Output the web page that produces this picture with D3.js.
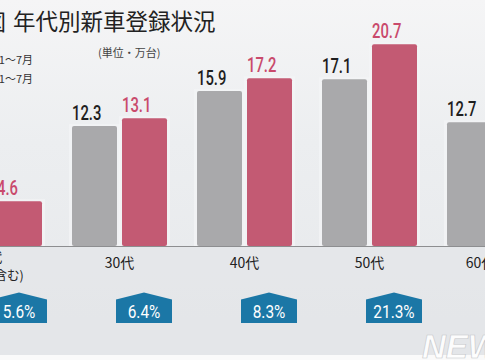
<!DOCTYPE html>
<html><head><meta charset="utf-8">
<script src="https://cdn.jsdelivr.net/npm/d3@7/dist/d3.min.js"></script>
<style>
html,body{margin:0;padding:0;background:#fff;}
svg{display:block;}
</style></head>
<body>
<script>
const categories = ["20代", "30代", "40代", "50代", "60代以上"];
const categorySub = ["(10代を含む)", "", "", "", ""];
const seriesNames = ["2021年1～7月", "2022年1～7月"];
const values2021 = [null, 12.3, 15.9, 17.1, 12.7];
const values2022 = [4.6, 13.1, 17.2, 20.7, null];
const growth = ["5.6%", "6.4%", "8.3%", "21.3%", ""];
const title = "年代別新車登録状況";
const unitLabel = "(単位・万台)";

const W = 485, H = 360;
const colors = ["#a9a9ab", "#c35a73"];
const labelColors = ["#1e1e1e", "#c94a6c"];
const cond = "'Roboto','Liberation Sans',sans-serif";
const jp = "'Noto Sans CJK JP','Noto Sans',sans-serif";

const svg = d3.select("body").append("svg").attr("width", W).attr("height", H);
const defs = svg.append("defs");
const bg = defs.append("linearGradient").attr("id","bg").attr("x1",0).attr("y1",0).attr("x2",0).attr("y2",1);
bg.append("stop").attr("offset","0%").attr("stop-color","#f5f5f6");
bg.append("stop").attr("offset","40%").attr("stop-color","#eceef0");
bg.append("stop").attr("offset","100%").attr("stop-color","#e6e8eb");
svg.append("rect").attr("width", W).attr("height", 355).attr("fill","url(#bg)");
svg.append("rect").attr("y",355).attr("width", W).attr("height", 5).attr("fill","#fafafa");

const x = d3.scalePoint().domain(categories).range([-5.5, 494.5]);
const xs = d3.scaleBand().domain(seriesNames).range([-47.5, 47.5]).paddingInner(0.1);
const y = d3.scaleLinear().domain([0, 20]).range([246, 51]);

svg.append("rect").attr("x",0).attr("y",y(0)).attr("width",W).attr("height",355-y(0)).attr("fill","#e2e4e7").attr("opacity",0.55);

const data = [];
categories.forEach((c,i)=>{
  [values2021[i], values2022[i]].forEach((v,s)=>{
    if (v != null) data.push({cat:c, s, v});
  });
});

function condText(sel, sx) {
  return sel.attr("transform", function(){
    const t = d3.select(this);
    return `translate(${t.attr("data-x")},${t.attr("data-y")}) scale(${sx},1)`;
  });
}

const g = svg.append("g");
g.selectAll("rect.halo").data(data).join("rect").attr("class","halo")
  .attr("x", d => x(d.cat) + xs(seriesNames[d.s]) - 3)
  .attr("y", d => y(d.v) - 2)
  .attr("width", xs.bandwidth() + 6)
  .attr("height", d => y(0) - y(d.v) + 2)
  .attr("fill", "#f4f5f7").attr("opacity", 0.7);

g.selectAll("rect.bar").data(data).join("rect").attr("class","bar")
  .attr("x", d => x(d.cat) + xs(seriesNames[d.s]))
  .attr("y", d => y(d.v))
  .attr("width", xs.bandwidth())
  .attr("height", d => y(0) - y(d.v))
  .attr("rx", 2)
  .attr("fill", d => colors[d.s]);

g.selectAll("text.val").data(data).join("text").attr("class","val")
  .attr("data-x", d => x(d.cat) + xs(seriesNames[d.s]))
  .attr("data-y", d => y(d.v) - 6)
  .attr("font-family", cond).attr("font-size", 19.5).attr("font-weight", 500)
  .attr("fill", d => labelColors[d.s])
  .text(d => d.v.toFixed(1))
  .call(condText, 0.76);

svg.append("line").attr("x1",0).attr("x2",W).attr("y1",y(0)+0.5).attr("y2",y(0)+0.5)
  .attr("stroke","#8d8e90").attr("stroke-width",1.2);

const cl = svg.append("g");
categories.forEach((c,i)=>{
  if (categorySub[i]) {
    cl.append("text").attr("x", x(c) - 7).attr("y", 262).attr("text-anchor","middle")
      .attr("font-family", jp).attr("font-size", 14).attr("fill","#222").text(c);
    cl.append("text").attr("x", x(c) - 7).attr("y", 280).attr("text-anchor","middle")
      .attr("font-family", jp).attr("font-size", 12.5).attr("fill","#222").text(categorySub[i]);
  } else {
    cl.append("text").attr("x", x(c)).attr("y", 268).attr("text-anchor","middle")
      .attr("font-family", jp).attr("font-size", 14).attr("fill","#222").text(c);
  }
});

const bw = 56;
categories.forEach((c,i)=>{
  if (!growth[i]) return;
  const cx = x(c) + xs(seriesNames[1]) + xs.bandwidth()/2 - 0.5;
  const top = 292.5, sh = 299.5, bot = 323;
  const pts = [[cx-bw/2,bot],[cx-bw/2,sh],[cx,top],[cx+bw/2,sh],[cx+bw/2,bot]];
  svg.append("path").attr("d", d3.line()(pts)+"Z").attr("fill","#1b77a6");
  svg.append("text").attr("data-x", cx).attr("data-y", 317.5).attr("text-anchor","middle")
    .attr("font-family", cond).attr("font-size", 17.5).attr("fill","#fff").text(growth[i])
    .call(condText, 0.88);
});

svg.append("text").attr("x", 6).attr("y", 30).attr("text-anchor","end")
  .attr("font-family", jp).attr("font-size", 22).attr("fill","#222").text("図");
svg.append("text").attr("x", 13).attr("y", 30)
  .attr("font-family", jp).attr("font-size", 22.5).attr("fill","#222").text(title);
svg.append("text").attr("x", 98).attr("y", 57)
  .attr("font-family", jp).attr("font-size", 11).attr("fill","#444").text(unitLabel);

seriesNames.forEach((s,i)=>{
  svg.append("text").attr("x", 33).attr("y", 64 + i*19).attr("text-anchor","end")
    .attr("font-family", jp).attr("font-size", 11).attr("fill","#333").text(s);
});

svg.append("text").attr("x", 422).attr("y", 358)
  .attr("font-family","'Liberation Sans',sans-serif").attr("font-weight","bold").attr("font-style","italic")
  .attr("font-size", 33).attr("fill","#ffffff").attr("fill-opacity",0.92)
  .attr("stroke","#c4c6c9").attr("stroke-width",0.6).text("NEWSIS");
</script>
</body></html>
